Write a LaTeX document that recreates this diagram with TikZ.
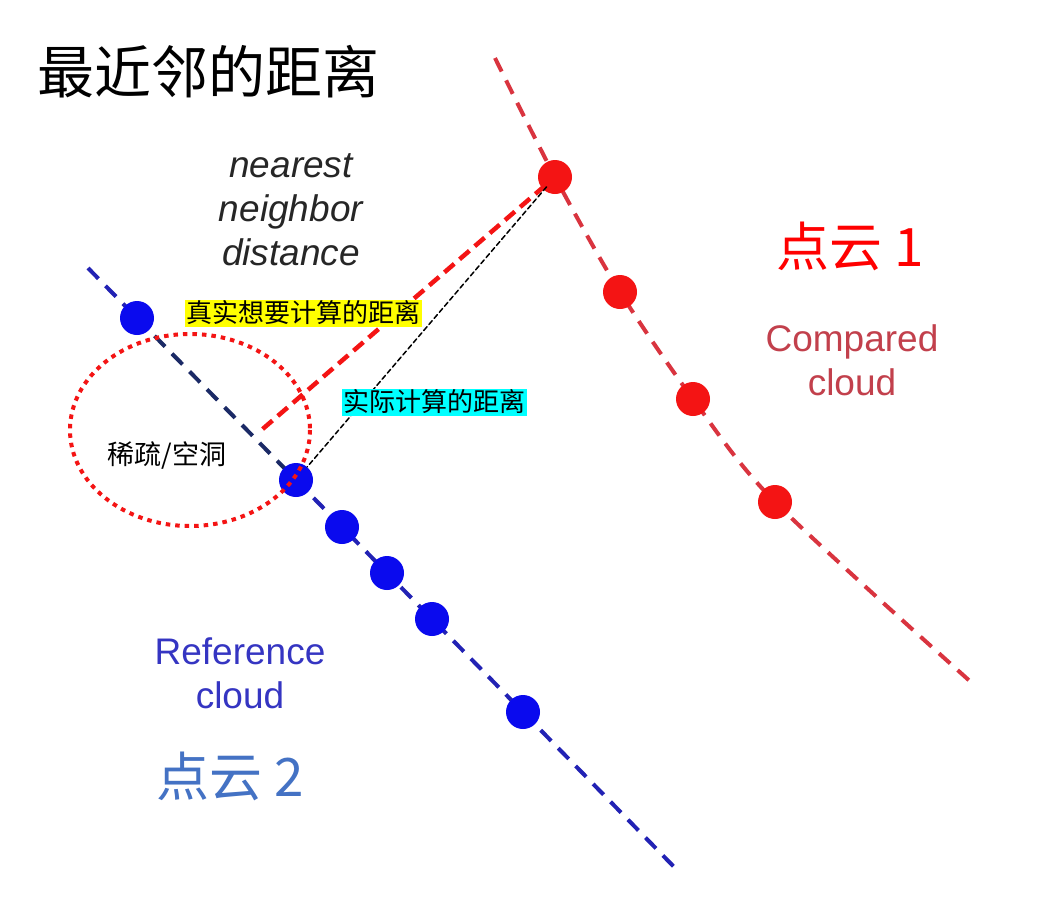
\documentclass[tikz,border=0pt]{standalone}
\usepackage{fontspec}
\setmainfont{Liberation Sans}
\newfontfamily\cjk{Noto Sans CJK SC}
\usetikzlibrary{positioning,backgrounds}
\definecolor{ptred}{HTML}{F41414}
\definecolor{ptblue}{HTML}{0A0AEE}
\definecolor{linered}{HTML}{D9343F}
\definecolor{lineblue}{HTML}{2222B4}
\definecolor{linenavy}{HTML}{1B2A66}
\definecolor{cmpred}{HTML}{C2404C}
\definecolor{refblue}{HTML}{3535C2}
\definecolor{ctwoblue}{HTML}{4472C4}
\definecolor{hlyellow}{HTML}{FFFF00}
\definecolor{hlcyan}{HTML}{00FFFF}
\definecolor{onered}{HTML}{FF0000}
\newcommand{\fsz}[2]{\fontsize{#1}{#2}\selectfont}

\begin{document}
\begin{tikzpicture}[x=1pt,y=-1pt,line join=round,line cap=round]
	\tikzset{reddot/.style={circle,fill=ptred,inner sep=0pt,minimum size=34pt},
		bluedot/.style={circle,fill=ptblue,inner sep=0pt,minimum size=34pt},
		cloudline/.style={line width=4pt,line cap=butt,dash pattern=on 15pt off 10pt},
		hlbox/.style={inner xsep=1.5pt,inner ysep=1pt,font=\cjk\fsz{26}{30},text height=22pt,text depth=3pt},
		cjklabel/.style={font=\cjk\fsz{#1}{#1}}}
	\useasboundingbox (0,0) rectangle (1043,897);
	% the two clouds
	\foreach \x/\y [count=\i] in {555/177,620/292,693/399,775/502}
		\node[reddot] (r\i) at (\x,\y) {};
	\foreach \x/\y [count=\i] in {137/318,296/480,342/527,387/573,432/619,523/712}
		\node[bluedot] (b\i) at (\x,\y) {};
	\coordinate (rtop) at (495,58);
	\coordinate (rend) at (972,683);
	\coordinate (btop) at (88,268);
	\coordinate (bend) at (679,872);
	\coordinate (gapend) at (258,433);
	\begin{scope}[on background layer]
		\fill[white] (0,0) rectangle (1043,897);
		\draw[cloudline,linered] plot[smooth,tension=0.5] coordinates {(rtop) (r1.center) (r2.center) (r3.center) (r4.center) (rend)};
		\draw[cloudline,lineblue] (btop)--(b1.center);
		\draw[cloudline,linenavy] (b1.center)--(b2.center);
		\draw[cloudline,lineblue] (b2.center)--(b3.center)--(b4.center)--(b5.center)--(b6.center)--(bend);
	\end{scope}
	% distances
	\draw[ptred,line width=4.5pt,line cap=butt,dash pattern=on 13pt off 7pt,shorten <=13pt] (r1.center)--(gapend);
	\draw[black,line width=1.5pt,dash pattern=on 5pt off 3pt,shorten <=13pt] (r1.center)--(b2);
	\draw[ptred,line width=4pt,line cap=butt,dash pattern=on 4.5pt off 5pt] (190,430) ellipse [x radius=120,y radius=96];
	% labels
	\node[cjklabel=57] (title) at (208,72) {最近邻的距离};
	\node[font=\itshape\fsz{37}{44},text=black!85,align=center] (nnd) at (291,210) {nearest\\neighbor\\distance};
	\node[hlbox,fill=hlyellow] (truedist) at (303,313) {真实想要计算的距离};
	\node[hlbox,fill=hlcyan] (calcdist) at (434,402) {实际计算的距离};
	\node[cjklabel=27] (hole) at (167,455) {稀疏/空洞};
	\node[cjklabel=53,text=onered] (cloudone) at (850,246) {点云 1};
	\node[font=\fsz{37}{44},text=cmpred,align=center] (cmp) at (852,360) {Compared\\cloud};
	\node[font=\fsz{37}{44},text=refblue,align=center] (ref) at (240,673) {Reference\\cloud};
	\node[cjklabel=53,text=ctwoblue] (cloudtwo) at (230,776) {点云 2};
\end{tikzpicture}
\end{document}
